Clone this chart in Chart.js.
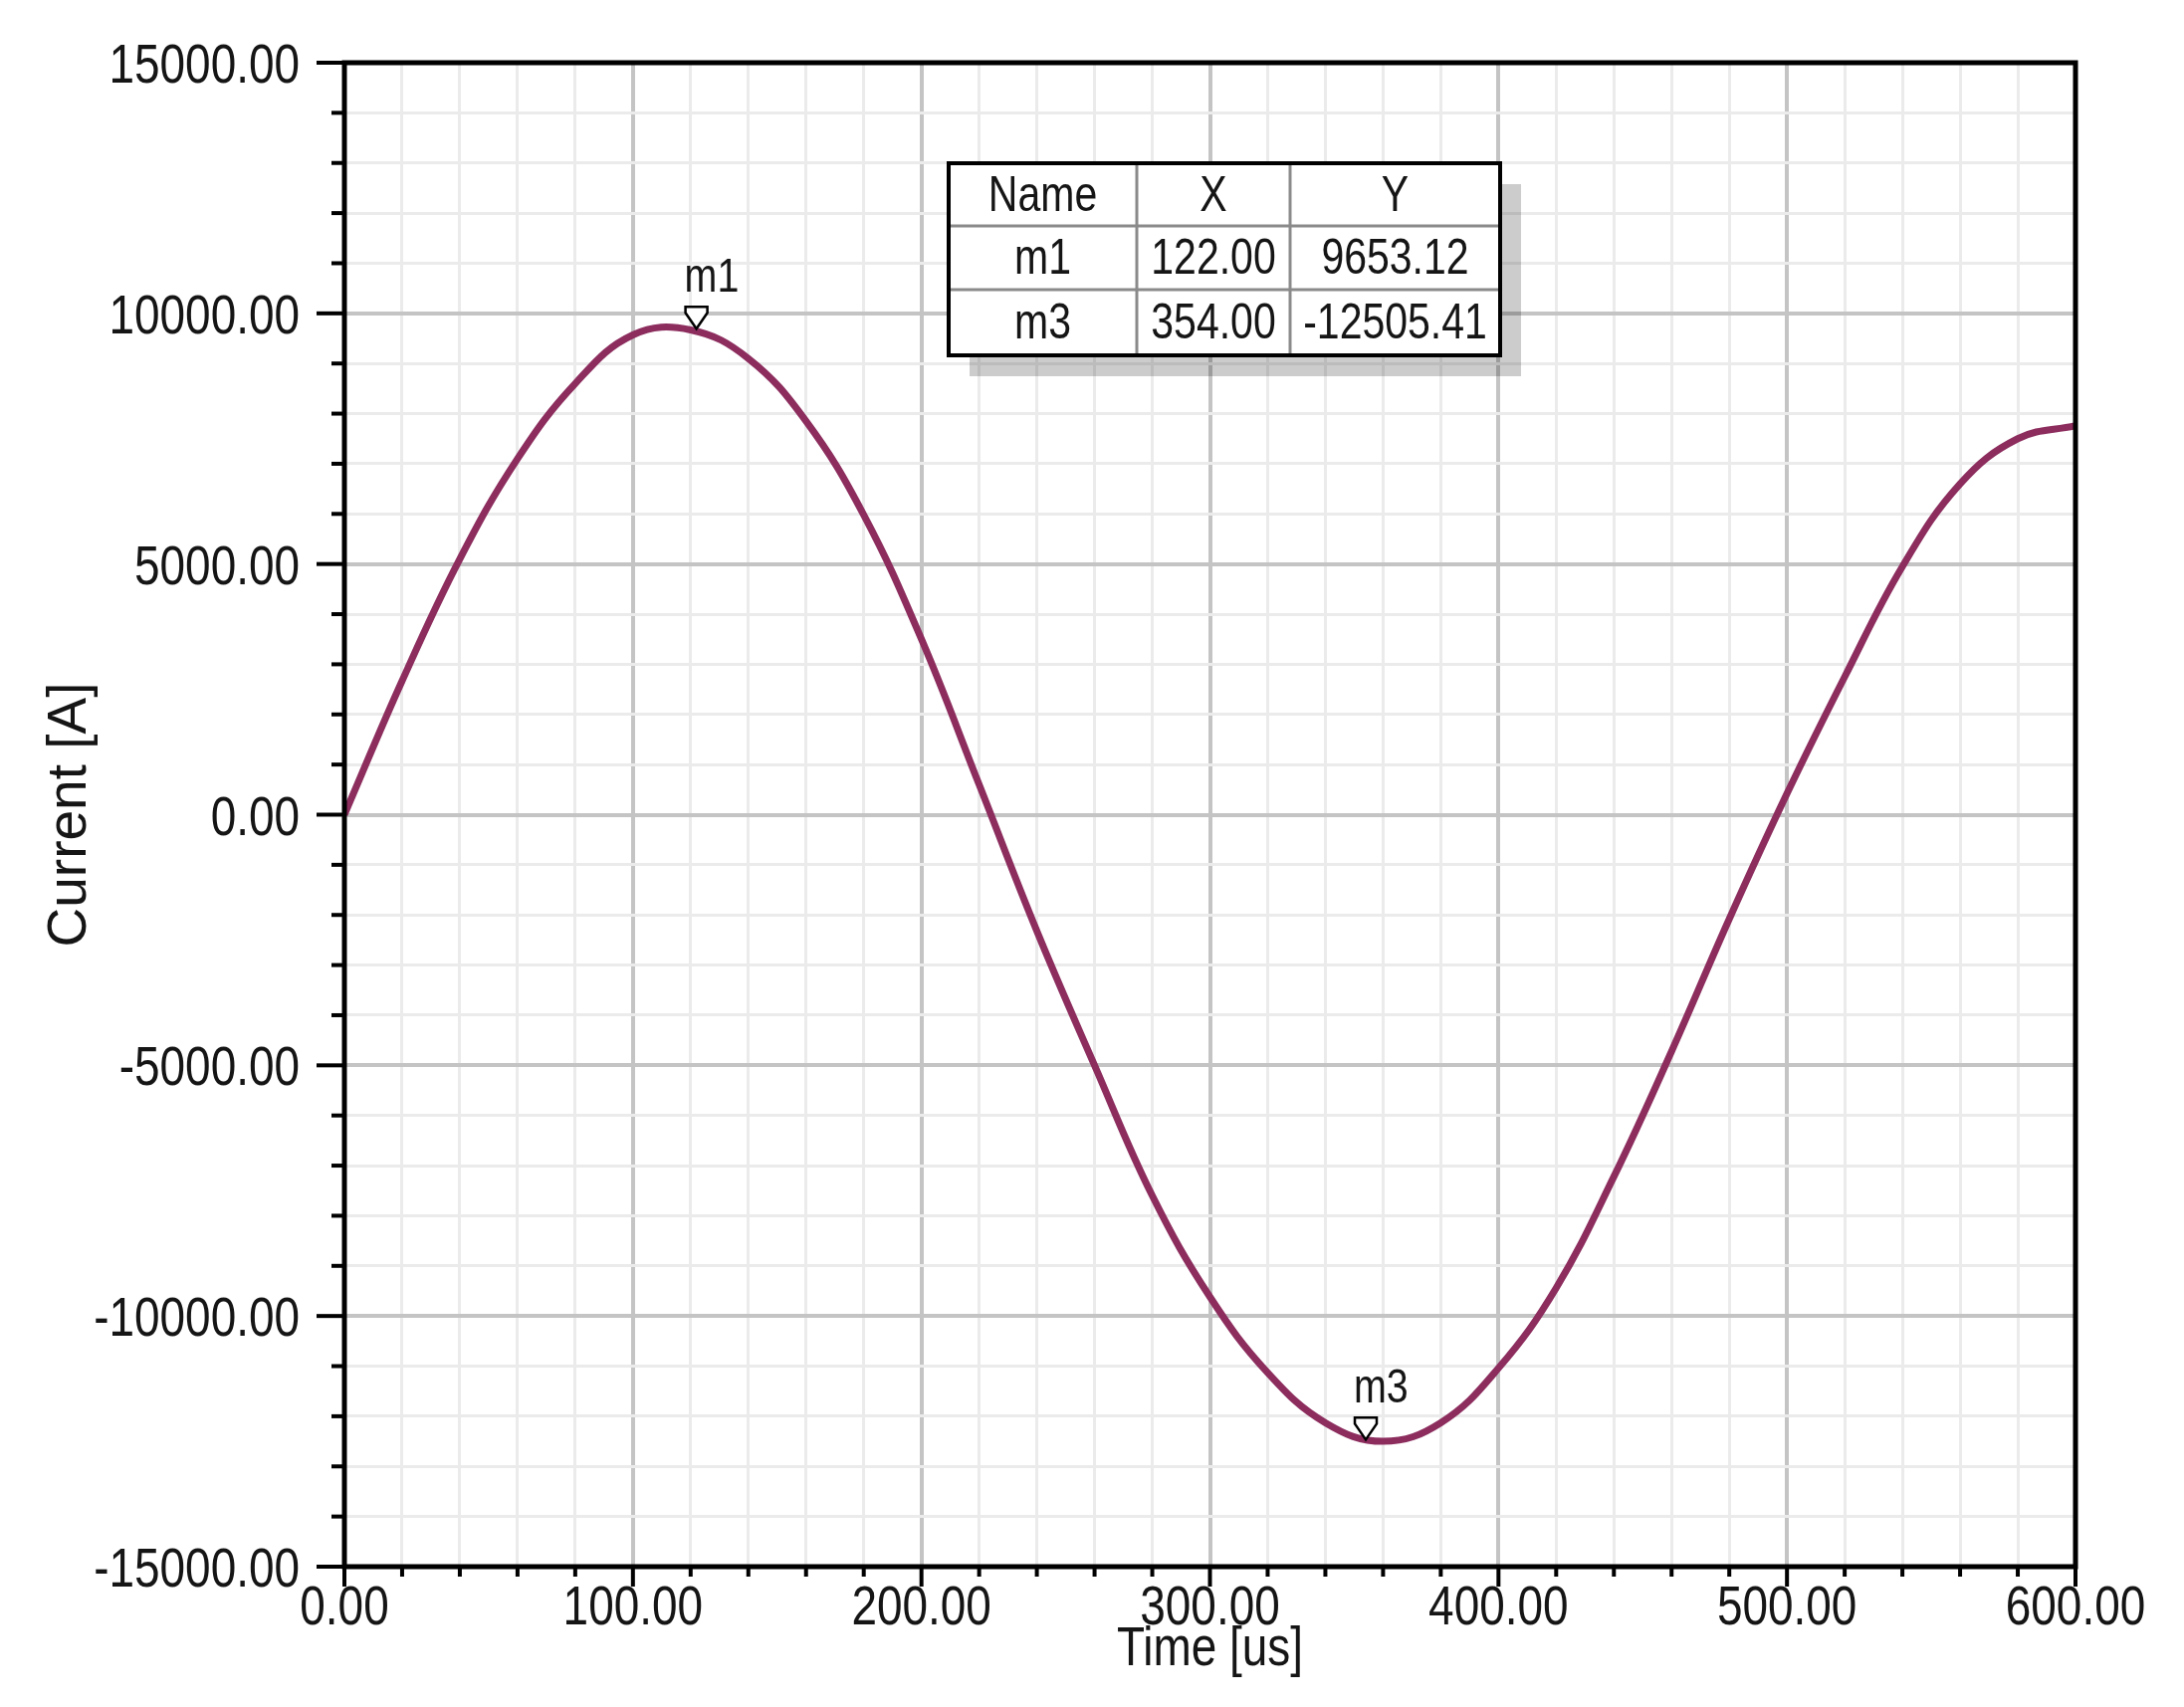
<!DOCTYPE html>
<html>
<head>
<meta charset="utf-8">
<script src="https://cdn.jsdelivr.net/npm/chart.js@4.4.1/dist/chart.umd.min.js"></script>
<style>
  html, body { margin: 0; padding: 0; background: #fff; }
  canvas { display: block; }
</style>
</head>
<body>
<canvas id="current-chart" width="2194" height="1715"></canvas>
<script>
// values (Time in us, Current in A)
const timeUs = [0, 20, 40, 60, 80, 100, 120, 140, 160, 180, 200, 220, 240, 260, 280, 300,
  320, 340, 360, 380, 400, 420, 440, 460, 480, 500, 520, 540, 560, 580, 600];
const currentA = [0, 2670, 5100, 7100, 8600, 9570, 9670, 9100, 7850, 5980, 3500, 600, -2320,
  -5000, -7600, -9620, -11130, -12130, -12500, -12130, -11040, -9440, -7220, -4720, -2080,
  420, 2750, 4950, 6600, 7500, 7760];

const markerNames = ['m1', 'm3'];
const markerX = [122.00, 354.00];
const markerY = [9653.12, -12505.41];

const xLabelTicks = [0, 100, 200, 300, 400, 500, 600];
const yLabelTicks = [-15000, -10000, -5000, 0, 5000, 10000, 15000];

const SANS = '"Liberation Sans", Arial, sans-serif';
const TEXT = '#151515';
const NARROW = 0.82; // horizontal squeeze, the original uses a narrow face

function narrowText(ctx, txt, x, y, size, align) {
  ctx.save();
  ctx.translate(x, y);
  ctx.scale(NARROW, 1);
  ctx.font = size + 'px ' + SANS;
  ctx.textAlign = align;
  ctx.textBaseline = 'alphabetic';
  ctx.fillText(txt, 0, 0);
  ctx.restore();
}

const overlay = {
  id: 'overlay',
  afterDraw(chart) {
    const ctx = chart.ctx;
    const xs = chart.scales.x, ys = chart.scales.y;
    const a = chart.chartArea;
    ctx.save();

    // tick marks
    ctx.strokeStyle = '#000';
    ctx.lineWidth = 4;
    ys.ticks.forEach(t => {
      const py = ys.getPixelForValue(t.value);
      const len = yLabelTicks.includes(t.value) ? 28 : 13;
      ctx.beginPath(); ctx.moveTo(a.left - len, py); ctx.lineTo(a.left, py); ctx.stroke();
    });
    xs.ticks.forEach(t => {
      const px = xs.getPixelForValue(t.value);
      const len = xLabelTicks.includes(t.value) ? 20 : 10;
      ctx.beginPath(); ctx.moveTo(px, a.bottom); ctx.lineTo(px, a.bottom + len); ctx.stroke();
    });

    // frame
    ctx.lineWidth = 5;
    ctx.strokeRect(a.left, a.top, a.right - a.left, a.bottom - a.top);

    // tick labels and x title
    ctx.fillStyle = TEXT;
    yLabelTicks.forEach(v => narrowText(ctx, v.toFixed(2), a.left - 45, ys.getPixelForValue(v) + 20, 56, 'right'));
    xLabelTicks.forEach(v => narrowText(ctx, v.toFixed(2), xs.getPixelForValue(v), a.bottom + 58, 56, 'center'));
    narrowText(ctx, 'Time [us]', (a.left + a.right) / 2, a.bottom + 99, 56, 'center');

    // markers
    markerNames.forEach((name, i) => {
      const px = xs.getPixelForValue(markerX[i]);
      const py = ys.getPixelForValue(markerY[i]);
      ctx.beginPath();
      ctx.moveTo(px - 11, py - 24);
      ctx.lineTo(px + 11, py - 24);
      ctx.lineTo(px + 11, py - 18);
      ctx.lineTo(px, py - 2);
      ctx.lineTo(px - 11, py - 18);
      ctx.closePath();
      ctx.fillStyle = '#fff';
      ctx.fill();
      ctx.lineWidth = 2.5;
      ctx.strokeStyle = '#000';
      ctx.stroke();
      ctx.fillStyle = TEXT;
      narrowText(ctx, name, px - 12, py - 39, 48, 'left');
    });

    // marker table
    const cols = [953, 1142, 1296, 1507];
    const rows = [164, 227, 291, 357];
    ctx.fillStyle = 'rgba(0,0,0,0.2)';
    ctx.fillRect(cols[0] + 21, rows[0] + 21, cols[3] - cols[0], rows[3] - rows[0]);
    ctx.fillStyle = '#fff';
    ctx.fillRect(cols[0], rows[0], cols[3] - cols[0], rows[3] - rows[0]);
    ctx.strokeStyle = '#8a8a8a';
    ctx.lineWidth = 3;
    [cols[1], cols[2]].forEach(c => { ctx.beginPath(); ctx.moveTo(c, rows[0]); ctx.lineTo(c, rows[3]); ctx.stroke(); });
    [rows[1], rows[2]].forEach(r => { ctx.beginPath(); ctx.moveTo(cols[0], r); ctx.lineTo(cols[3], r); ctx.stroke(); });
    ctx.strokeStyle = '#000';
    ctx.lineWidth = 4;
    ctx.strokeRect(cols[0], rows[0], cols[3] - cols[0], rows[3] - rows[0]);

    const cells = [['Name', 'X', 'Y']];
    markerNames.forEach((n, i) => cells.push([n, markerX[i].toFixed(2), markerY[i].toFixed(2)]));
    ctx.fillStyle = TEXT;
    cells.forEach((row, r) => row.forEach((txt, c) => {
      narrowText(ctx, txt, (cols[c] + cols[c + 1]) / 2, (rows[r] + rows[r + 1]) / 2 + 16, 50, 'center');
    }));

    ctx.restore();
  }
};

new Chart(document.getElementById('current-chart'), {
  type: 'line',
  data: {
    datasets: [{
      data: timeUs.map((t, i) => ({ x: t, y: currentA[i] })),
      borderColor: '#8c2d5e',
      borderWidth: 7,
      pointRadius: 0,
      tension: 0.4
    }]
  },
  options: {
    responsive: false,
    animation: false,
    devicePixelRatio: 1,
    layout: { padding: { top: 63, right: 109, left: 0, bottom: 0 } },
    plugins: { legend: { display: false }, tooltip: { enabled: false } },
    scales: {
      x: {
        type: 'linear',
        min: 0, max: 600,
        afterFit: s => { s.height = 141; },
        grid: {
          drawTicks: false,
          lineWidth: c => xLabelTicks.includes(c.tick.value) ? 4 : 3,
          color: c => xLabelTicks.includes(c.tick.value) ? '#c4c4c4' : '#ebebeb'
        },
        border: { display: false },
        ticks: { stepSize: 20, autoSkip: false, display: false }
      },
      y: {
        type: 'linear',
        min: -15000, max: 15000,
        afterFit: s => { s.width = 346; },
        grid: {
          drawTicks: false,
          lineWidth: c => yLabelTicks.includes(c.tick.value) ? 4 : 3,
          color: c => yLabelTicks.includes(c.tick.value) ? '#c4c4c4' : '#ebebeb'
        },
        border: { display: false },
        ticks: { stepSize: 1000, autoSkip: false, display: false },
        title: {
          display: true,
          text: 'Current [A]',
          color: TEXT,
          font: { family: SANS, size: 55, lineHeight: 1.2 },
          padding: { top: 38, bottom: 0 }
        }
      }
    }
  },
  plugins: [overlay]
});
</script>
</body>
</html>
